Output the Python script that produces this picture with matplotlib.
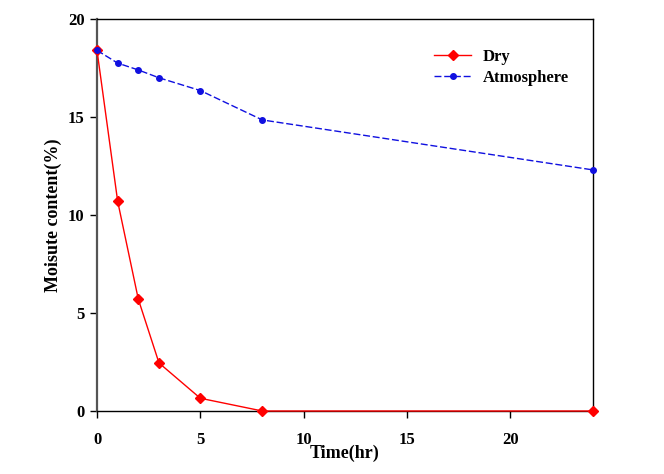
import matplotlib
matplotlib.use("Agg")
import matplotlib.pyplot as plt

time_dry = [0, 1, 2, 3, 5, 8, 24]
dry = [18.4, 10.7, 5.7, 2.45, 0.65, 0.0, 0.0]
time_atm = [0, 1, 2, 3, 5, 8, 24]
atmosphere = [18.4, 17.75, 17.4, 17.0, 16.35, 14.85, 12.3]
xticks = [0, 5, 10, 15, 20]
yticks = [0, 5, 10, 15, 20]

plt.rcParams['font.family'] = ['Liberation Serif', 'DejaVu Serif']
plt.rcParams['font.weight'] = 'bold'

fig = plt.figure(figsize=(6.64, 4.74), dpi=100)
ax = fig.add_axes([97/664, 1-411/474, (593-97)/664, (411-19)/474])

ax.plot(time_dry, dry, color='red', marker='D', markersize=5, linewidth=1.0,
        label='Dry', zorder=3, clip_on=False)
ax.plot(time_atm, atmosphere, color='#1010e0', marker='o', markersize=4,
        linewidth=1.0, linestyle=(0, (5, 2)), label='Atmosphere', zorder=3,
        clip_on=False)

ax.set_xlim(0, 24)
ax.set_ylim(0, 20)
ax.set_xticks(xticks)
ax.set_yticks(yticks)
ax.tick_params(axis='both', direction='out', length=5, labelsize=12, width=1)
ax.tick_params(axis='x', pad=10)
ax.tick_params(axis='y', pad=4)
for lab in ax.get_xticklabels() + ax.get_yticklabels():
    lab.set_fontweight('bold')
ax.spines['left'].set_color('#555555')
ax.spines['left'].set_linewidth(1.6)
for s in ['top', 'right', 'bottom']:
    ax.spines[s].set_linewidth(1.0)
    ax.spines[s].set_color('black')

ax.set_xlabel('Time(hr)', fontsize=13, fontweight='bold', labelpad=-2)
ax.set_ylabel('Moisute content(%)', fontsize=13, fontweight='bold', labelpad=4)

leg = ax.legend(loc='upper left', bbox_to_anchor=(0.65, 0.962), frameon=False,
                prop={'family': 'Liberation Serif', 'weight': 'bold', 'size': 12},
                handlelength=2.2, handletextpad=0.7, labelspacing=0.3)

fig.savefig('out.png', dpi=100)
